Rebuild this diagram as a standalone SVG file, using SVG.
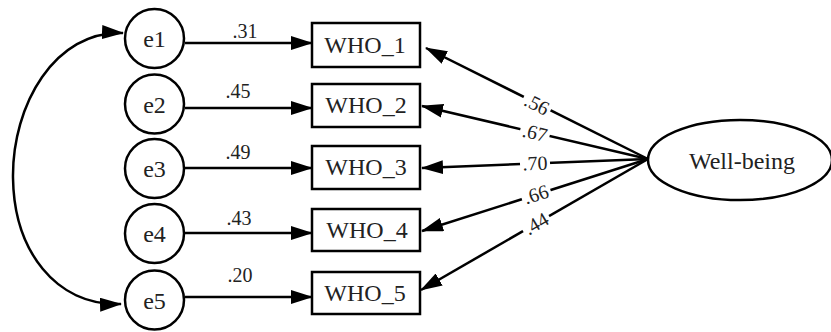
<svg xmlns="http://www.w3.org/2000/svg" width="831" height="332" viewBox="0 0 831 332">
<style>
.shape{fill:#fff;stroke:#000;stroke-width:2.5}
.lbl{font-family:"Liberation Serif","Times New Roman",serif;font-size:24px;fill:#222;text-anchor:middle}
.w{font-family:"Liberation Serif","Times New Roman",serif;font-size:20px;fill:#222;text-anchor:middle}
.c{dominant-baseline:central}
.con{fill:none;stroke:#000;stroke-width:2.5}
.gap{fill:#fff}
</style>
<defs>
<marker id="ah" markerUnits="userSpaceOnUse" markerWidth="22" markerHeight="14" viewBox="0 0 22 14" refX="21" refY="7" orient="auto-start-reverse">
<path d="M0,0 L22,7 L0,14 z" fill="#000"/>
</marker>
</defs>
<rect width="831" height="332" fill="#fff"/>
<g id="connectors">
<path class="con" d="M123,33 C55,30 12,105 13,178 C14,250 55,306 121,304" marker-start="url(#ah)" marker-end="url(#ah)"/>
<line class="con" x1="185" y1="43" x2="312" y2="43" marker-end="url(#ah)"/>
<line class="con" x1="185" y1="108" x2="312" y2="108" marker-end="url(#ah)"/>
<line class="con" x1="185" y1="168" x2="312" y2="168" marker-end="url(#ah)"/>
<line class="con" x1="185" y1="233" x2="312" y2="233" marker-end="url(#ah)"/>
<line class="con" x1="185" y1="297" x2="312" y2="297" marker-end="url(#ah)"/>
<line class="con" x1="648" y1="159" x2="426" y2="48" marker-end="url(#ah)"/>
<line class="con" x1="648" y1="159" x2="422" y2="106" marker-end="url(#ah)"/>
<line class="con" x1="648" y1="159" x2="422" y2="168" marker-end="url(#ah)"/>
<line class="con" x1="648" y1="159" x2="422" y2="231" marker-end="url(#ah)"/>
<line class="con" x1="648" y1="159" x2="421" y2="290" marker-end="url(#ah)"/>
<text class="w" x="245" y="38">.31</text>
<text class="w" x="238" y="98">.45</text>
<text class="w" x="238" y="159">.49</text>
<text class="w" x="239" y="225">.43</text>
<text class="w" x="240" y="282">.20</text>
<g transform="translate(537,104) rotate(26.6)"><rect class="gap" x="-15" y="-6" width="30" height="12"/><text class="w c">.56</text></g>
<g transform="translate(535,132.5) rotate(13.2)"><rect class="gap" x="-15" y="-6" width="30" height="12"/><text class="w c">.67</text></g>
<g transform="translate(535,163) rotate(-2.3)"><rect class="gap" x="-15" y="-6" width="30" height="12"/><text class="w c">.70</text></g>
<g transform="translate(536,194) rotate(-17.4)"><rect class="gap" x="-15" y="-6" width="30" height="12"/><text class="w c">.66</text></g>
<g transform="translate(536,223.5) rotate(-30.3)"><rect class="gap" x="-15" y="-6" width="30" height="12"/><text class="w c">.44</text></g>
</g>
<g id="e1"><circle class="shape" cx="154.5" cy="38.5" r="29.5"/><text class="lbl" x="154.5" y="47">e1</text></g>
<g id="e2"><circle class="shape" cx="154.5" cy="104" r="29.5"/><text class="lbl" x="154.5" y="112.5">e2</text></g>
<g id="e3"><circle class="shape" cx="154.5" cy="168.5" r="29.5"/><text class="lbl" x="154.5" y="177">e3</text></g>
<g id="e4"><circle class="shape" cx="154.5" cy="233.5" r="29.5"/><text class="lbl" x="154.5" y="242">e4</text></g>
<g id="e5"><circle class="shape" cx="154.5" cy="300" r="29.5"/><text class="lbl" x="154.5" y="308.5">e5</text></g>
<g id="WHO_1"><rect class="shape" x="312" y="23" width="108" height="44"/><text class="lbl" x="365" y="52.5">WHO_1</text></g>
<g id="WHO_2"><rect class="shape" x="312" y="84" width="108" height="43"/><text class="lbl" x="366" y="113">WHO_2</text></g>
<g id="WHO_3"><rect class="shape" x="312" y="146" width="108" height="43"/><text class="lbl" x="366" y="175">WHO_3</text></g>
<g id="WHO_4"><rect class="shape" x="312" y="209" width="108" height="42"/><text class="lbl" x="367" y="238">WHO_4</text></g>
<g id="WHO_5"><rect class="shape" x="312" y="272" width="108" height="42"/><text class="lbl" x="365" y="301">WHO_5</text></g>
<g id="Well-being"><ellipse class="shape" cx="740" cy="160" rx="92" ry="40"/><text class="lbl" x="742" y="169">Well-being</text></g>
</svg>
